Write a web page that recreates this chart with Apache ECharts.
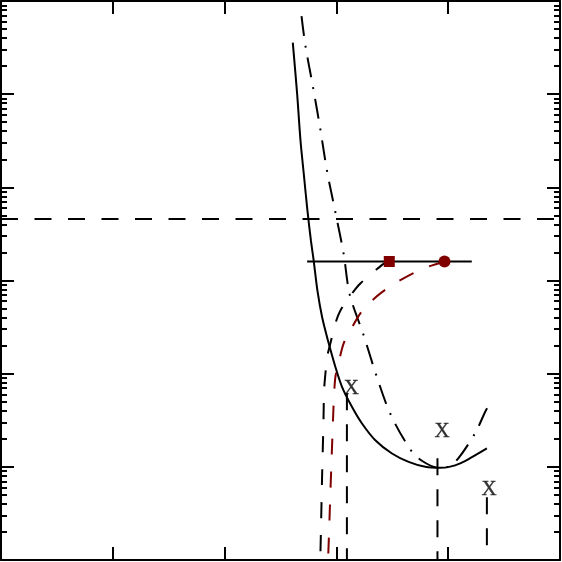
<!DOCTYPE html>
<html>
<head>
<meta charset="utf-8">
<script src="https://cdn.jsdelivr.net/npm/echarts@6/dist/echarts.min.js"></script>
<style>html,body{margin:0;padding:0;background:#fff}#c{width:562px;height:562px}</style>
</head>
<body>
<div id="c"></div>
<script>
// ---- data ----
const solidX = [2.610, 2.649, 2.679, 2.710, 2.741, 2.772, 2.799, 2.830, 2.872, 2.924, 2.991, 3.051, 3.140, 3.229, 3.348, 3.497, 3.646, 3.795, 3.929, 4.018, 4.107, 4.196, 4.346];
const solidY = [357000, 100000, 31600, 13300, 5620, 2690, 1560, 782, 405, 228, 118, 71.9, 43.9, 29.2, 19.3, 13.9, 11.3, 10.0, 9.75, 10.05, 10.9, 12.4, 15.8];

const dashDotX = [2.688, 2.723, 2.792, 2.857, 2.917, 2.991, 3.065, 3.119, 3.244, 3.357, 3.488, 3.676, 3.786, 3.911, 4.000, 4.092, 4.241, 4.330, 4.348];
const dashDotY = [690000, 330000, 117000, 41500, 14800, 5400, 1930, 708, 258, 96, 35.8, 14.5, 11.2, 9.8, 10, 12.4, 23.0, 38.8, 42.5];

const blackDashX = [3.473, 3.422, 3.348, 3.214, 3.140, 3.036, 2.991, 2.946, 2.917, 2.902, 2.890, 2.884, 2.872, 2.863, 2.857, 2.853];
const blackDashY = [1600, 1510, 1280, 929, 726, 477, 346, 211, 151, 101, 66.3, 29.4, 7.81, 2.49, 1.19, 1.0];

const redDashX = [3.967, 3.810, 3.676, 3.542, 3.408, 3.304, 3.214, 3.125, 3.065, 3.021, 2.991, 2.979, 2.973, 2.962, 2.946, 2.931, 2.925];
const redDashY = [1600, 1390, 1180, 959, 750, 586, 443, 291, 211, 133, 92, 58.6, 40.5, 17.9, 5.22, 1.52, 1.0];

const hLineX = [2.738, 4.211];
const hLineY = [1600, 1600];

const thresholdX = [0, 5];
const thresholdY = [4580, 4580];

const dropX = [3.094, 3.904, 4.346];
const dropTop = [61.5, 12.4, 4.73];
const dropBottom = 1;

const labelX = [3.134, 3.946, 4.366];
const labelY = [70, 24.1, 5.77];
const labelText = ['X', 'X', 'X'];

const squareX = [3.473], squareY = [1600];
const circleX = [3.967], circleY = [1600];

const xTicks = [0, 5, 1];      // min, max, interval
const yRange = [1, 1000000];  // log axis

// ---- build ----
const zip = (a, b) => a.map((v, i) => [v, b[i]]);
const RED = '#800000';

function xAxisDef(pos) {
  return {
    type: 'value', position: pos, min: xTicks[0], max: xTicks[1], interval: xTicks[2],
    axisLine: { show: true, onZero: false, lineStyle: { color: '#000', width: 2 } },
    axisTick: { show: true, inside: true, length: 13, lineStyle: { color: '#000', width: 2 } },
    axisLabel: { show: false }, splitLine: { show: false }
  };
}
function yAxisDef(pos) {
  return {
    type: 'log', logBase: 10, position: pos, min: yRange[0], max: yRange[1],
    axisLine: { show: true, onZero: false, lineStyle: { color: '#000', width: 2 } },
    axisTick: { show: true, inside: true, length: 13, lineStyle: { color: '#000', width: 2 } },
    minorTick: { show: true, splitNumber: 9, length: 6, lineStyle: { color: '#000', width: 2 } },
    axisLabel: { show: false }, splitLine: { show: false }, minorSplitLine: { show: false }
  };
}

const lineBase = (data, color, type, extra) => Object.assign({
  type: 'line', data: data, showSymbol: false, symbol: 'none', animation: false,
  lineStyle: { color: color, width: 2, type: type }, xAxisIndex: 0, yAxisIndex: 0, z: 3
}, extra || {});

const series = [
  lineBase(zip(thresholdX, thresholdY), '#000', [17, 16.5]),
  lineBase(zip(solidX, solidY), '#000', 'solid', { smooth: 0.3 }),
  lineBase(zip(dashDotX, dashDotY), '#000', [20, 10, 2, 10], { smooth: 0.3 }),
  lineBase(zip(blackDashX, blackDashY), '#000', [16, 17], { smooth: 0.3 }),
  lineBase(zip(redDashX, redDashY), RED, [16, 17], { smooth: 0.3 }),
  lineBase(zip(hLineX, hLineY), '#000', 'solid')
];
dropX.forEach((x, i) => {
  series.push(lineBase([[x, dropTop[i]], [x, dropBottom]], '#000', [17, 14]));
});
series.push({
  type: 'scatter', data: zip(squareX, squareY), symbol: 'rect', symbolSize: 11,
  itemStyle: { color: RED, opacity: 1 }, z: 5, animation: false
});
series.push({
  type: 'scatter', data: zip(circleX, circleY), symbol: 'circle', symbolSize: 12,
  itemStyle: { color: RED, opacity: 1 }, z: 5, animation: false
});
series.push({
  type: 'scatter', data: zip(labelX, labelY), symbolSize: 1, itemStyle: { color: 'rgba(0,0,0,0)' },
  label: { show: true, position: 'inside', formatter: p => labelText[p.dataIndex],
           color: '#000', fontFamily: 'Liberation Serif', fontSize: 21,
           textBorderColor: '#000', textBorderWidth: 0.3 },
  z: 6, animation: false
});

const chart = echarts.init(document.getElementById('c'));
chart.setOption({
  animation: false,
  backgroundColor: '#fff',
  grid: { left: 1, right: 2, top: 1, bottom: 2, containLabel: false },
  xAxis: [xAxisDef('bottom'), xAxisDef('top')],
  yAxis: [yAxisDef('left'), yAxisDef('right')],
  series: series
});
</script>
</body>
</html>
